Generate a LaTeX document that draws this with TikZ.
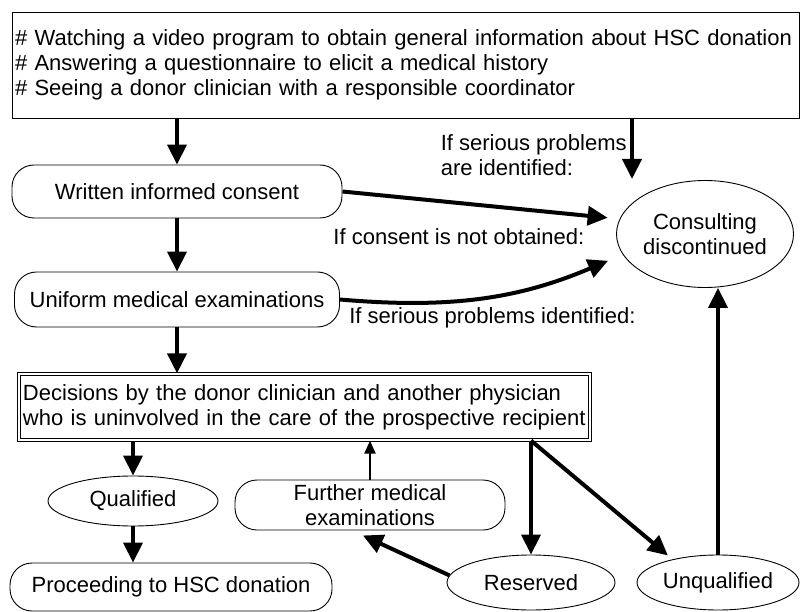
\documentclass[tikz,border=0pt]{standalone}
\usepackage{fontspec}
\setmainfont{Liberation Sans}
\usetikzlibrary{arrows.meta,shapes,positioning}

\begin{document}
\begin{tikzpicture}[x=1pt,y=-1pt,->,>={Triangle[length=20pt,width=19pt]},
                    line width=4pt,font=\fontsize{22}{25}\selectfont,
                    plain box/.style={rectangle,draw,line width=0.9pt},
                    round box/.style={plain box,rounded corners=22pt,align=center,inner sep=2pt},
                    main node/.style={ellipse,draw,line width=0.9pt,inner sep=0pt,align=center},
                    back arrow/.style={line width=2pt,>={Triangle[length=13pt,width=11pt]}}
                    ]
  \useasboundingbox (0,0) rectangle (800,612);

  \node[plain box,align=left,text width=781pt,inner xsep=3pt,minimum height=106pt] (intro) at (405.5,65)
    {\# Watching a video program to obtain general information about HSC donation\\
     \# Answering a questionnaire to elicit a medical history\\
     \# Seeing a donor clinician with a responsible coordinator};
  \node[round box,minimum width=330pt,minimum height=53pt] (consent) at (177,191.5) {Written informed consent};
  \node[round box,minimum width=325pt,minimum height=55pt] (exam) at (177,299.5) {Uniform medical examinations};
  \node[plain box,double,double distance=2pt,line width=1.2pt,align=left,text width=563pt,
        inner xsep=4pt,minimum height=66pt] (decide) at (304.5,407)
    {Decisions by the donor clinician and another physician\\
     who is uninvolved in the care of the prospective recipient};
  \node[main node,minimum width=177pt,minimum height=107pt] (stop) at (705,234) {Consulting\\discontinued};
  \node[main node,minimum width=170pt,minimum height=50pt] (qual) at (133,501) {Qualified};
  \node[round box,minimum width=270pt,minimum height=50pt] (further) at (370,505) {Further medical\\examinations};
  \node[round box,minimum width=322pt,minimum height=48pt] (donate) at (171,587) {Proceeding to HSC donation};
  \node[main node,minimum width=168pt,minimum height=55pt] (reserve) at (531,582.5) {Reserved};
  \node[main node,minimum width=162pt,minimum height=55pt] (unqual) at (718,582.5) {Unqualified};
  \coordinate (halt) at (632,179);

  \path
    (consent |- intro.south) edge (consent)
    (intro.south -| halt) edge node[left,align=left,pos=0.6] {If serious problems\\are identified:} (halt)
    (consent) edge (exam)
    (consent.east) edge[shorten >=12pt] node[below=20pt,pos=0.42] {If consent is not obtained:} (stop.170)
    (exam) edge (exam |- decide.north)
    (exam.east) edge[bend right=14,shorten >=16pt] node[below right=3pt and 4pt,pos=0] {If serious problems identified:} (stop.194)
    (qual |- decide.south) edge (qual)
    (qual) edge (qual |- donate.north)
    (further) edge[back arrow] (further |- decide.south)
    (reserve |- decide.south) edge (reserve)
    (reserve |- decide.south) edge[shorten >=6pt] (unqual.153)
    (reserve.175) edge[shorten >=12pt] ([xshift=-18pt]further.south)
    (unqual) edge (unqual |- stop.south);
\end{tikzpicture}
\end{document}
